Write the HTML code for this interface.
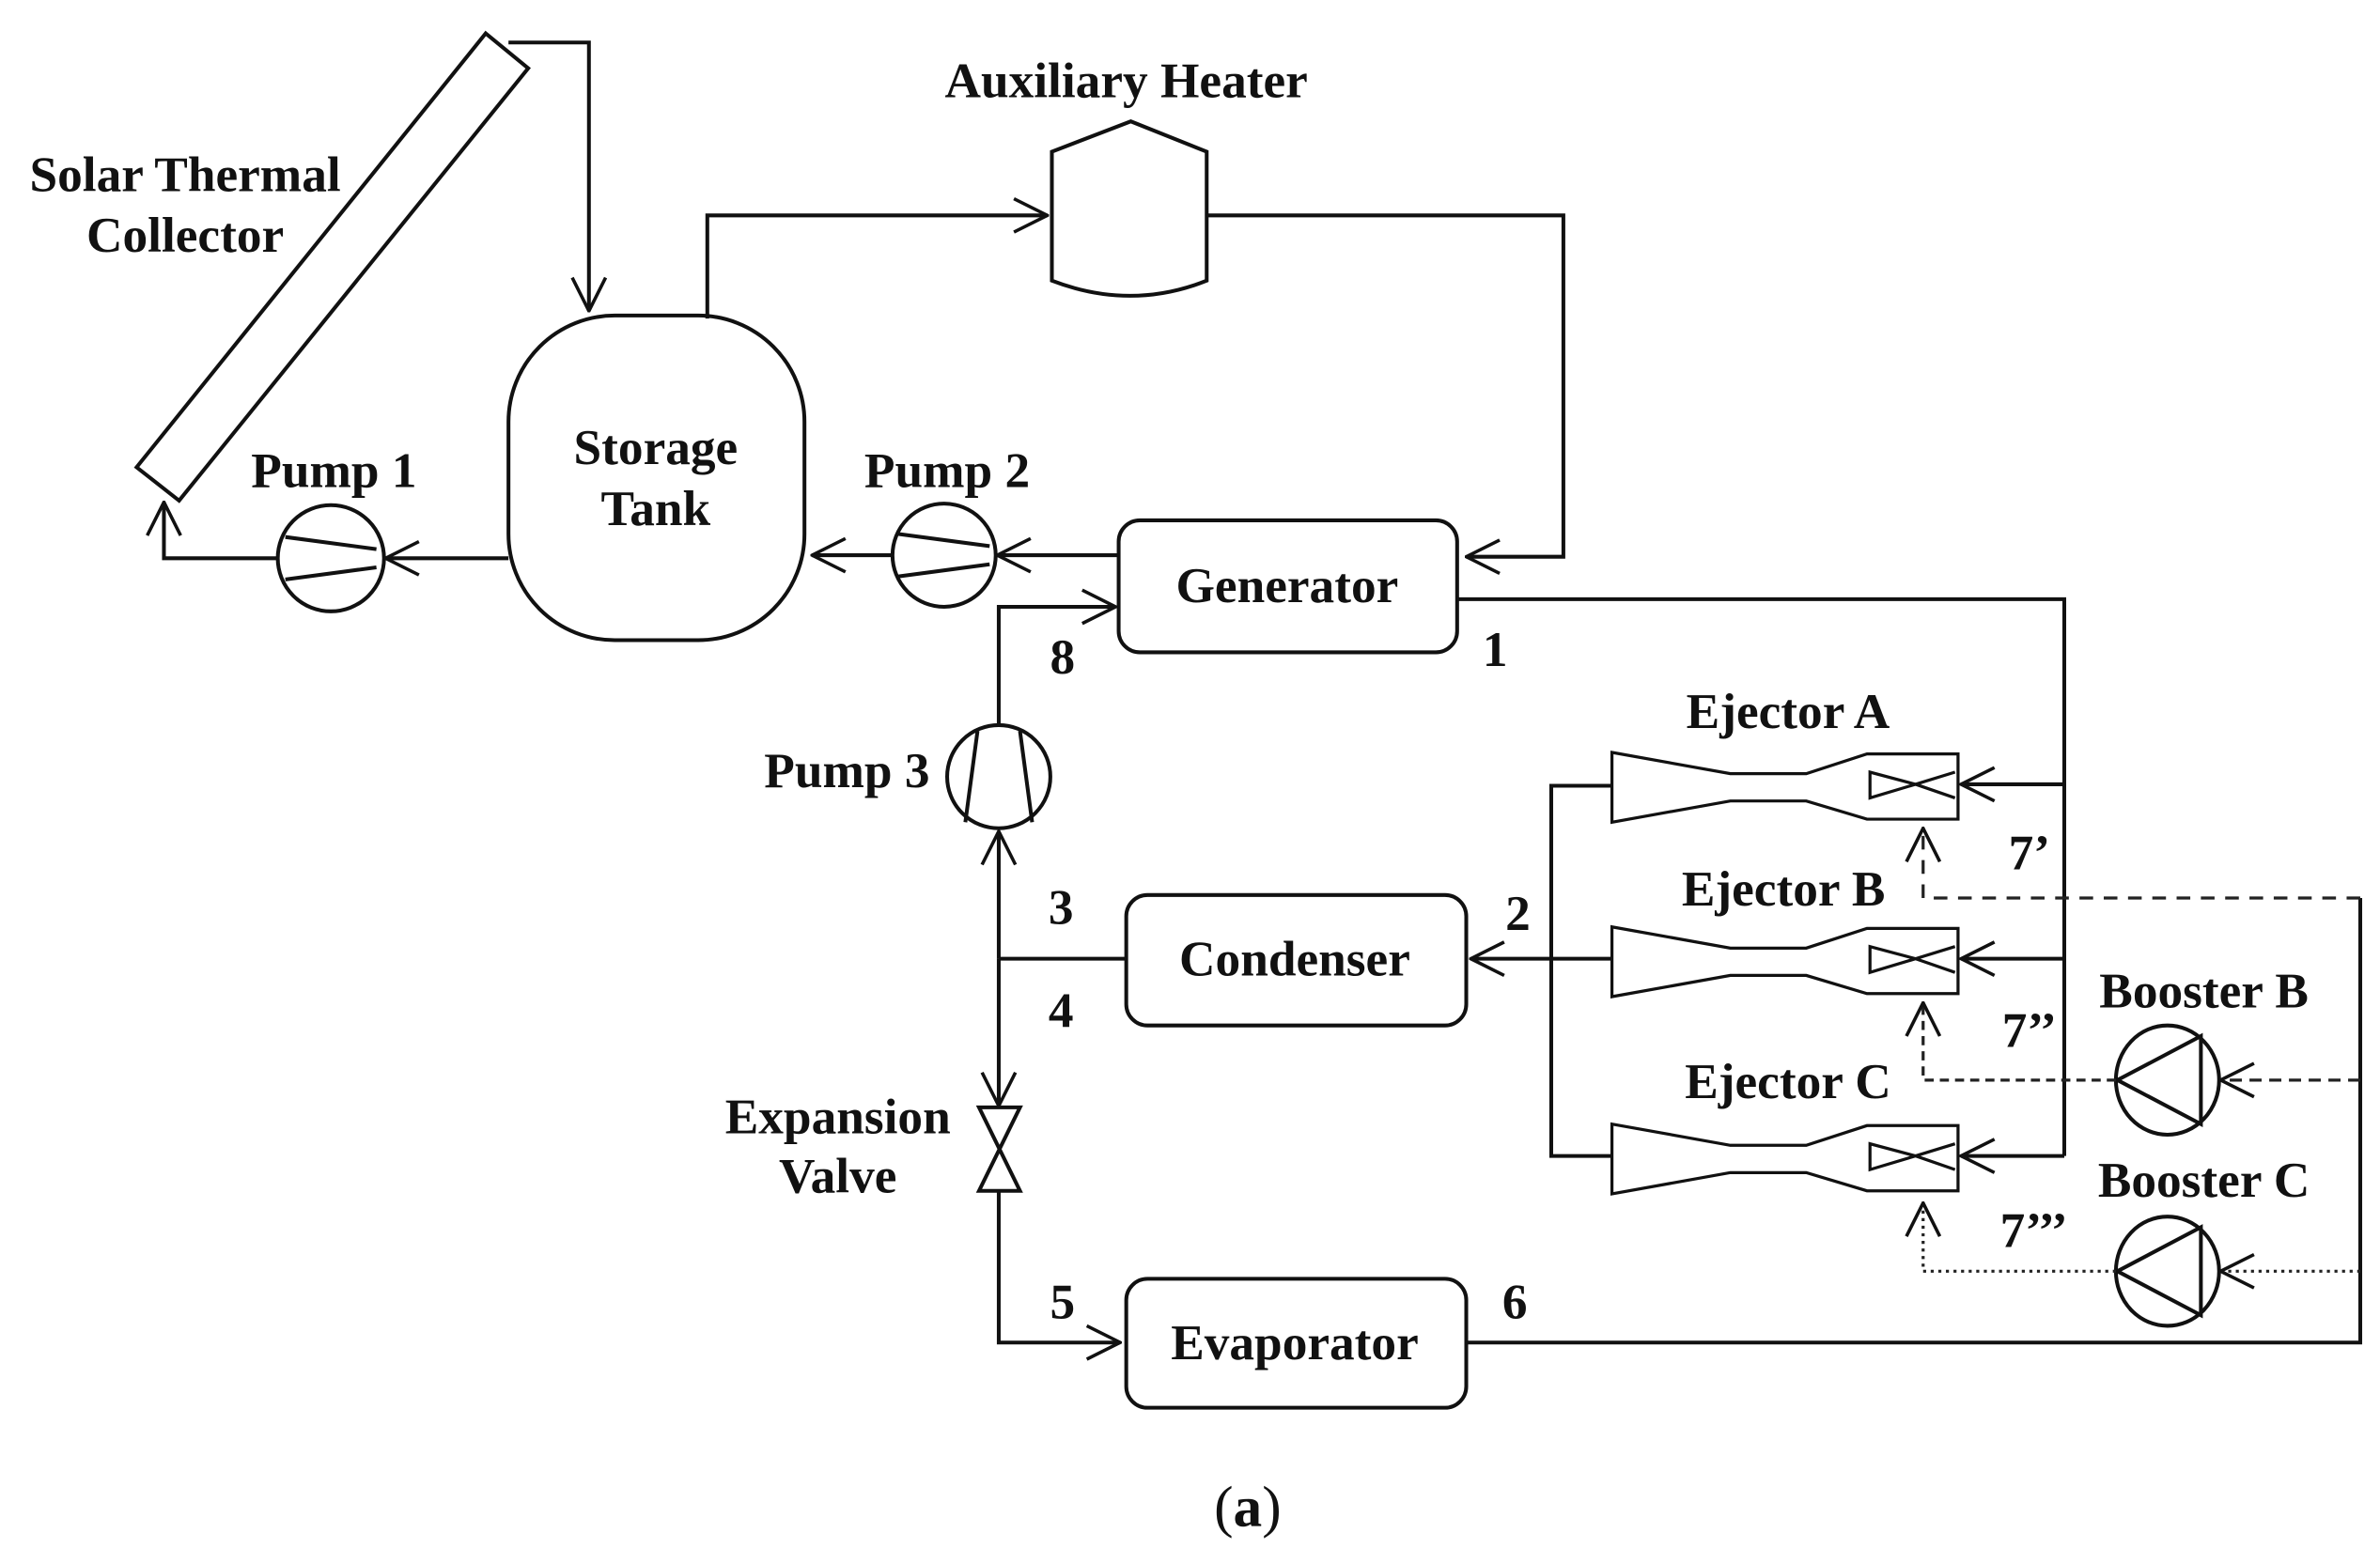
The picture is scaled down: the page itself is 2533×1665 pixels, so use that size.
<!DOCTYPE html>
<html><head><meta charset="utf-8"><style>
html,body{margin:0;padding:0;background:#fff;}
svg{display:block;}
text{font-family:"Liberation Serif",serif;font-weight:bold;font-size:33px;fill:#111;}
</style></head><body>
<svg width="2533" height="1665" viewBox="0 0 1568 1031" preserveAspectRatio="none" xmlns="http://www.w3.org/2000/svg">
<defs>
<marker id="a" viewBox="0 0 26 26" refX="25" refY="13" markerWidth="26" markerHeight="26" markerUnits="userSpaceOnUse" orient="auto">
<path d="M3,2 L25,13 L3,24" fill="none" stroke="#111" stroke-width="2.2"/></marker>
</defs>
<g fill="none" stroke="#111" stroke-width="2.5">
<polygon points="320,22 348,45 118,330 90,308" fill="#fff"/>
<polyline points="335,28 388,28 388,205" marker-end="url(#a)"/>
<rect x="335" y="208" width="195" height="214" rx="70"/>
<polyline points="466,210 466,142 690,142" marker-end="url(#a)"/>
<path d="M693,100 L745,80 L795,100 L795,185 Q745,205 693,185 Z"/>
<polyline points="795,142 1030,142 1030,367 966,367" marker-end="url(#a)"/>
<rect x="737" y="343" width="223" height="87" rx="14"/>
<circle cx="622" cy="366" r="34"/>
<path d="M592,352 L652,360 M592,380 L652,372"/>
<line x1="737" y1="366" x2="657" y2="366" marker-end="url(#a)"/>
<line x1="588" y1="366" x2="535" y2="366" marker-end="url(#a)"/>
<circle cx="218" cy="368" r="35"/>
<path d="M188,354 L248,362 M188,382 L248,374"/>
<line x1="335" y1="368" x2="254" y2="368" marker-end="url(#a)"/>
<polyline points="183,368 108,368 108,331" marker-end="url(#a)"/>
<polyline points="960,395 1360,395 1360,762"/>
<line x1="1360" y1="517" x2="1292" y2="517" marker-end="url(#a)"/>
<line x1="1360" y1="632" x2="1292" y2="632" marker-end="url(#a)"/>
<line x1="1360" y1="762" x2="1292" y2="762" marker-end="url(#a)"/>
<circle cx="658" cy="512" r="34"/>
<path d="M644,482 L636,542 M672,482 L680,542"/>
<polyline points="658,478 658,400 735,400" marker-end="url(#a)"/>
<line x1="658" y1="632" x2="658" y2="548" marker-end="url(#a)"/>
<line x1="658" y1="632" x2="658" y2="729" marker-end="url(#a)"/>
<line x1="742" y1="632" x2="658" y2="632"/>
<rect x="742" y="590" width="224" height="86" rx="14"/>
<polyline points="1062,518 1022,518 1022,762 1062,762"/>
<line x1="1062" y1="632" x2="969" y2="632" marker-end="url(#a)"/>
<path d="M645,730 L672,730 L645,785 L672,785 Z"/>
<polyline points="658,785 658,885 738,885" marker-end="url(#a)"/>
<rect x="742" y="843" width="224" height="85" rx="14"/>
<polyline points="966,885 1555,885 1555,592"/>
</g>
<g fill="#fff" stroke="#111" stroke-width="2">
<g id="ej">
<polygon points="1062,496 1140,510 1190,510 1230,497 1290,497 1290,540 1230,540 1190,528 1140,528 1062,542"/>
<path d="M1232,509 L1232,526 L1262,517 Z M1262,517 L1288,509 M1262,517 L1288,526" fill="none"/>
</g>
<use href="#ej" y="115"/>
<use href="#ej" y="245"/>
</g>
<g fill="none" stroke="#111" stroke-width="2.5">
<ellipse cx="1428" cy="712" rx="34" ry="36"/>
<path d="M1395,712 L1450,683 L1450,741 Z"/>
<ellipse cx="1428" cy="838" rx="34" ry="36"/>
<path d="M1395,838 L1450,809 L1450,867 Z"/>
</g>
<g fill="none" stroke="#222" stroke-width="2">
<polyline points="1555,592 1267,592 1267,546" stroke-dasharray="9,7" marker-end="url(#a)"/>
<line x1="1555" y1="712" x2="1463" y2="712" stroke-dasharray="8,5" marker-end="url(#a)"/>
<polyline points="1394,712 1267,712 1267,661" stroke-dasharray="6,4" marker-end="url(#a)"/>
<line x1="1555" y1="838" x2="1463" y2="838" stroke-dasharray="2,3" marker-end="url(#a)"/>
<polyline points="1394,838 1267,838 1267,793" stroke-dasharray="2,3" marker-end="url(#a)"/>
</g>
<g text-anchor="middle">
<text x="122" y="126">Solar Thermal</text>
<text x="122" y="166">Collector</text>
<text x="742" y="64">Auxiliary Heater</text>
<text x="432" y="306">Storage</text>
<text x="432" y="346">Tank</text>
<text x="220" y="321">Pump 1</text>
<text x="624" y="321">Pump 2</text>
<text x="848" y="397">Generator</text>
<text x="558" y="519">Pump 3</text>
<text x="853" y="643">Condenser</text>
<text x="853" y="896">Evaporator</text>
<text x="552" y="747">Expansion</text>
<text x="552" y="786">Valve</text>
<text x="1178" y="480">Ejector A</text>
<text x="1175" y="597">Ejector B</text>
<text x="1178" y="724">Ejector C</text>
<text x="1452" y="664">Booster B</text>
<text x="1452" y="789">Booster C</text>
<text x="985" y="439">1</text>
<text x="700" y="444">8</text>
<text x="699" y="609">3</text>
<text x="699" y="677">4</text>
<text x="1000" y="613">2</text>
<text x="700" y="869">5</text>
<text x="998" y="869">6</text>
<text x="1337" y="573">7’</text>
<text x="1337" y="690">7’’</text>
<text x="1340" y="822">7’’’</text>
<text x="822" y="1006" style="font-size:38px;font-weight:normal">(<tspan font-weight="bold">a</tspan>)</text>
</g>
</svg>
</body></html>
